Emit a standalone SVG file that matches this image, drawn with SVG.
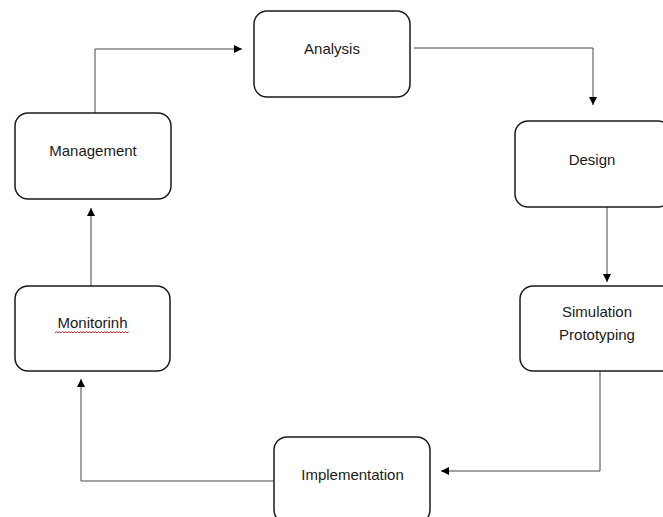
<svg xmlns="http://www.w3.org/2000/svg" width="663" height="517" viewBox="0 0 663 517">
  <style>
    .box { fill: #ffffff; stroke: #1a1a1a; stroke-width: 1.5; }
    .lbl { font-family: "Liberation Sans", Arial, sans-serif; font-size: 15px; fill: #1a1a1a; text-anchor: middle; }
    .wire { fill: none; stroke: #444444; stroke-width: 1; }
  </style>
  <defs>
    <marker id="arrow" viewBox="0 0 10 10" refX="10" refY="5" markerWidth="9" markerHeight="8" markerUnits="userSpaceOnUse" orient="auto">
      <path d="M0,0 L10,5 L0,10 Z" fill="#000000"/>
    </marker>
  </defs>
  <rect width="663" height="517" fill="#ffffff"/>

  <g id="connectors">
    <path class="wire" d="M95,113 V49 H242" marker-end="url(#arrow)"/>
    <path class="wire" d="M414,48 H593 V105" marker-end="url(#arrow)"/>
    <path class="wire" d="M607,207 V282" marker-end="url(#arrow)"/>
    <path class="wire" d="M600,371 V471 H441" marker-end="url(#arrow)"/>
    <path class="wire" d="M274,481 H81 V379" marker-end="url(#arrow)"/>
    <path class="wire" d="M91,286 V208" marker-end="url(#arrow)"/>
  </g>

  <g id="analysis">
    <rect class="box" x="254" y="11" width="156" height="86" rx="13"/>
    <text class="lbl" x="332" y="54">Analysis</text>
  </g>

  <g id="design">
    <rect class="box" x="515" y="121" width="156" height="86" rx="13"/>
    <text class="lbl" x="592" y="165">Design</text>
  </g>

  <g id="simulation">
    <rect class="box" x="520" y="286" width="156" height="85" rx="13"/>
    <text class="lbl" x="597" y="317">Simulation</text>
    <text class="lbl" x="597" y="340">Prototyping</text>
  </g>

  <g id="implementation">
    <rect class="box" x="274" y="437" width="156" height="86" rx="13"/>
    <text class="lbl" x="352.5" y="480">Implementation</text>
  </g>

  <g id="monitoring">
    <rect class="box" x="15" y="286" width="155" height="85" rx="13"/>
    <text class="lbl" x="92.5" y="328">Monitorinh</text>
    <!-- spell-check squiggle under the word -->
    <path d="M55,333 l1.5,-1.5 l1.5,1.5 l1.5,-1.5 l1.5,1.5 l1.5,-1.5 l1.5,1.5 l1.5,-1.5 l1.5,1.5 l1.5,-1.5 l1.5,1.5 l1.5,-1.5 l1.5,1.5 l1.5,-1.5 l1.5,1.5 l1.5,-1.5 l1.5,1.5 l1.5,-1.5 l1.5,1.5 l1.5,-1.5 l1.5,1.5 l1.5,-1.5 l1.5,1.5 l1.5,-1.5 l1.5,1.5 l1.5,-1.5 l1.5,1.5 l1.5,-1.5 l1.5,1.5 l1.5,-1.5 l1.5,1.5 l1.5,-1.5 l1.5,1.5 l1.5,-1.5 l1.5,1.5 l1.5,-1.5 l1.5,1.5 l1.5,-1.5 l1.5,1.5 l1.5,-1.5 l1.5,1.5 l1.5,-1.5 l1.5,1.5 l1.5,-1.5 l1.5,1.5 l1.5,-1.5 l1.5,1.5 l1.5,-1.5 l1.5,1.5 l1.5,-1.5" fill="none" stroke="#e02020" stroke-width="1"/>
  </g>

  <g id="management">
    <rect class="box" x="15" y="113" width="156" height="86" rx="13"/>
    <text class="lbl" x="93" y="156">Management</text>
  </g>
</svg>
